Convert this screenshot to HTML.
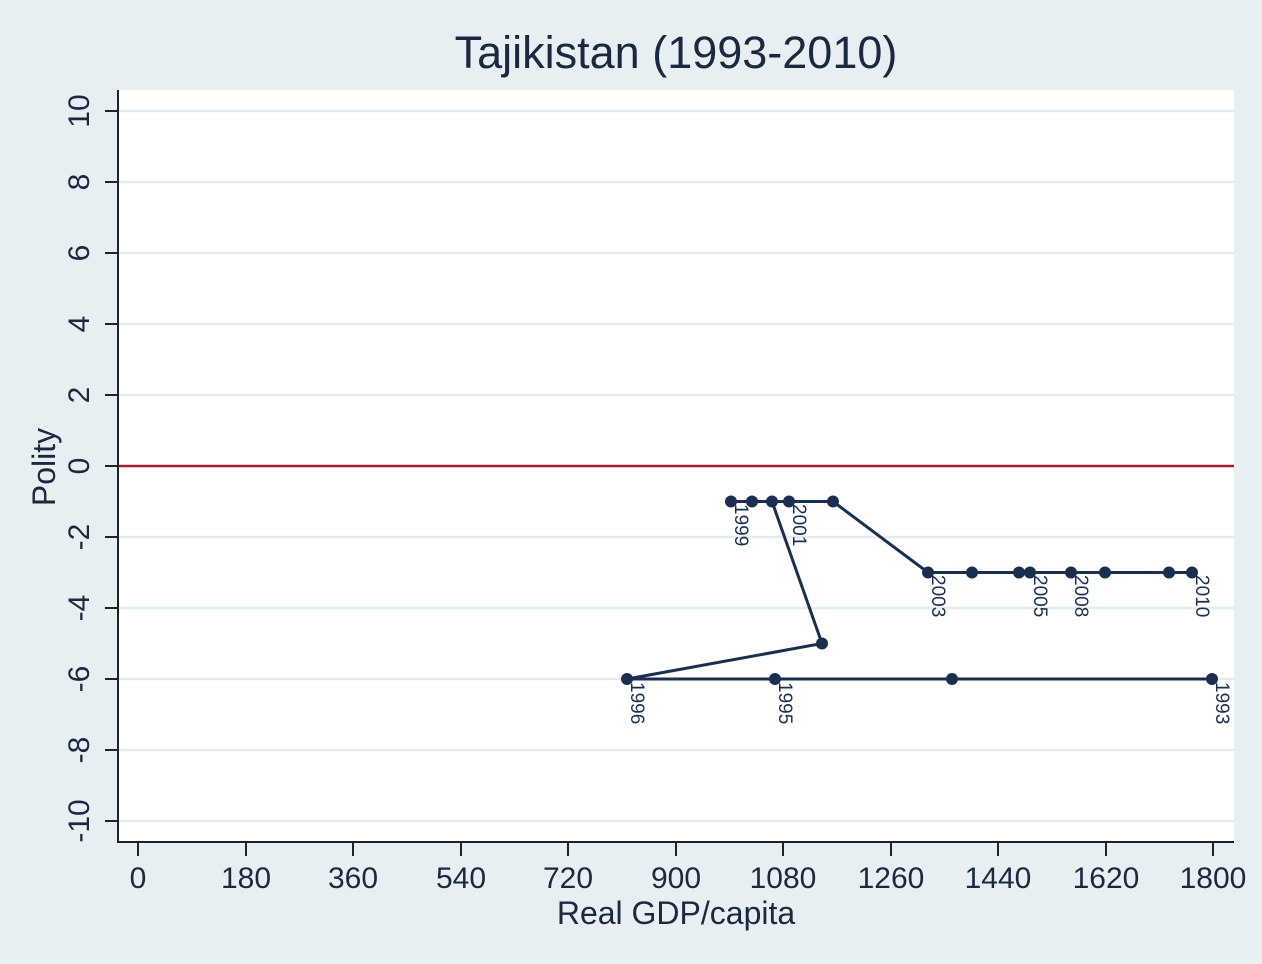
<!DOCTYPE html>
<html><head><style>body{margin:0;background:#e8eff2}svg{display:block}</style></head><body>
<svg width="1262" height="964" xmlns="http://www.w3.org/2000/svg" font-family="Liberation Sans, sans-serif">
<rect width="1262" height="964" fill="#e8eff2"/>
<text x="676" y="68" text-anchor="middle" font-size="45" fill="#1a2840">Tajikistan (1993-2010)</text>
<rect x="118" y="90" width="1116" height="752" fill="#fff"/>
<g stroke="#e3ecef" stroke-width="2.5">
<line x1="119" x2="1234" y1="111" y2="111"/><line x1="119" x2="1234" y1="182" y2="182"/>
<line x1="119" x2="1234" y1="253" y2="253"/><line x1="119" x2="1234" y1="324" y2="324"/>
<line x1="119" x2="1234" y1="395" y2="395"/><line x1="119" x2="1234" y1="537" y2="537"/>
<line x1="119" x2="1234" y1="608" y2="608"/><line x1="119" x2="1234" y1="679" y2="679"/>
<line x1="119" x2="1234" y1="750" y2="750"/><line x1="119" x2="1234" y1="821" y2="821"/>
</g>
<line x1="119" x2="1234" y1="466" y2="466" stroke="#a51d2d" stroke-width="2.5"/>
<g stroke="#222" stroke-width="2"><line x1="118" y1="90" x2="118" y2="843"/><line x1="117" y1="842" x2="1234" y2="842"/></g>
<g stroke="#222" stroke-width="2">
<line x1="105" x2="118" y1="111" y2="111"/><line x1="105" x2="118" y1="182" y2="182"/><line x1="105" x2="118" y1="253" y2="253"/><line x1="105" x2="118" y1="324" y2="324"/><line x1="105" x2="118" y1="395" y2="395"/><line x1="105" x2="118" y1="466" y2="466"/><line x1="105" x2="118" y1="537" y2="537"/><line x1="105" x2="118" y1="608" y2="608"/><line x1="105" x2="118" y1="679" y2="679"/><line x1="105" x2="118" y1="750" y2="750"/><line x1="105" x2="118" y1="821" y2="821"/>
<line x1="138" x2="138" y1="842" y2="856"/><line x1="246" x2="246" y1="842" y2="856"/><line x1="353" x2="353" y1="842" y2="856"/><line x1="461" x2="461" y1="842" y2="856"/><line x1="568" x2="568" y1="842" y2="856"/><line x1="676" x2="676" y1="842" y2="856"/><line x1="783" x2="783" y1="842" y2="856"/><line x1="891" x2="891" y1="842" y2="856"/><line x1="998" x2="998" y1="842" y2="856"/><line x1="1106" x2="1106" y1="842" y2="856"/><line x1="1213" x2="1213" y1="842" y2="856"/>
</g>
<g font-size="30" fill="#1a2840" text-anchor="middle">
<text x="138" y="888">0</text><text x="246" y="888">180</text><text x="353" y="888">360</text><text x="461" y="888">540</text><text x="568" y="888">720</text><text x="676" y="888">900</text><text x="783" y="888">1080</text><text x="891" y="888">1260</text><text x="998" y="888">1440</text><text x="1106" y="888">1620</text><text x="1213" y="888">1800</text>
<text x="676" y="924" font-size="32">Real GDP/capita</text>
<text transform="translate(55,467) rotate(-90)" font-size="32">Polity</text>
<g transform="translate(89,0)">
<text transform="translate(0,111) rotate(-90)">10</text><text transform="translate(0,182) rotate(-90)">8</text><text transform="translate(0,253) rotate(-90)">6</text><text transform="translate(0,324) rotate(-90)">4</text><text transform="translate(0,395) rotate(-90)">2</text><text transform="translate(0,466) rotate(-90)">0</text><text transform="translate(0,537) rotate(-90)">-2</text><text transform="translate(0,608) rotate(-90)">-4</text><text transform="translate(0,679) rotate(-90)">-6</text><text transform="translate(0,750) rotate(-90)">-8</text><text transform="translate(0,821) rotate(-90)">-10</text>
</g></g>
<polyline fill="none" stroke="#1a2f50" stroke-width="3" points="1212,679 952,679 775,679 627,679 822,643.5 772,501.5 731,501.5 752,501.5 789,501.5 833,501.5 928,572.5 972,572.5 1019,572.5 1030,572.5 1071,572.5 1105,572.5 1169,572.5 1192,572.5"/>
<g fill="#1a2f50">
<circle cx="1212" cy="679" r="6"/><circle cx="952" cy="679" r="6"/><circle cx="775" cy="679" r="6"/><circle cx="627" cy="679" r="6"/><circle cx="822" cy="643.5" r="6"/><circle cx="772" cy="501.5" r="6"/><circle cx="731" cy="501.5" r="6"/><circle cx="752" cy="501.5" r="6"/><circle cx="789" cy="501.5" r="6"/><circle cx="833" cy="501.5" r="6"/><circle cx="928" cy="572.5" r="6"/><circle cx="972" cy="572.5" r="6"/><circle cx="1019" cy="572.5" r="6"/><circle cx="1030" cy="572.5" r="6"/><circle cx="1071" cy="572.5" r="6"/><circle cx="1105" cy="572.5" r="6"/><circle cx="1169" cy="572.5" r="6"/><circle cx="1192" cy="572.5" r="6"/>
</g>
<g font-size="19" fill="#1a2f50">
<text transform="translate(735,504) rotate(90)">1999</text>
<text transform="translate(793,504) rotate(90)">2001</text>
<text transform="translate(932,575) rotate(90)">2003</text>
<text transform="translate(1034,575) rotate(90)">2005</text>
<text transform="translate(1075,575) rotate(90)">2008</text>
<text transform="translate(1196,575) rotate(90)">2010</text>
<text transform="translate(631,682) rotate(90)">1996</text>
<text transform="translate(779,682) rotate(90)">1995</text>
<text transform="translate(1216,682) rotate(90)">1993</text>
</g>
</svg>
</body></html>
